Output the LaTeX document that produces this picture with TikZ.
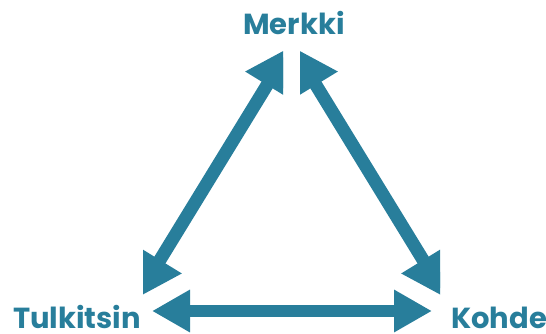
\documentclass[tikz,border=0pt]{standalone}
\usepackage{fontspec}
\newfontfamily\labfont{Poppins}
\usetikzlibrary{arrows.meta}
\definecolor{teal}{RGB}{40,126,155}
\begin{document}
\begin{tikzpicture}[x=1pt,y=-1pt,
  lab/.style={font=\labfont\bfseries\fontsize{29}{29}\selectfont, text=teal, inner sep=0pt},
  diag/.style={line width=13pt, draw=teal, {Triangle[length=45pt,width=48pt]}-{Triangle[length=45pt,width=48pt]}},
  horiz/.style={line width=12pt, draw=teal, {Triangle[length=38pt,width=40pt]}-{Triangle[length=38pt,width=40pt]}}]
\useasboundingbox (0,0) rectangle (546,333);
\node[lab, anchor=base] (merkki) at (294,34) {Merkki};
\node[lab, anchor=base west] (tulkitsin) at (13,328) {Tulkitsin};
\node[lab, anchor=base west] (kohde) at (451,328) {Kohde};
\coordinate (lt) at (290.6,46.6);
\coordinate (lb) at (136.4,298.4);
\coordinate (rt) at (292.4,46.6);
\coordinate (rb) at (446.6,298.4);
\coordinate (hl) at (152,311);
\coordinate (hr) at (432,311);
\begin{scope}
  \clip (143,0) rectangle (283,333);
  \draw[diag] (lb) -- (lt);
\end{scope}
\begin{scope}
  \clip (300,0) rectangle (440,333);
  \draw[diag] (rt) -- (rb);
\end{scope}
\draw[horiz] (hl) -- (hr);
\end{tikzpicture}
\end{document}
